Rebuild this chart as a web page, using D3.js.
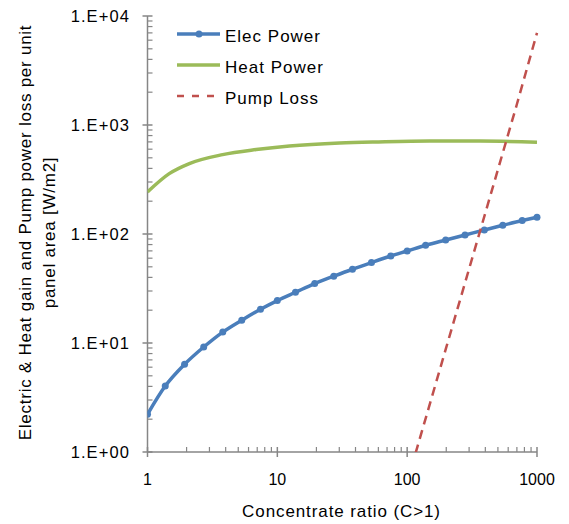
<!DOCTYPE html>
<html>
<head>
  <meta charset="utf-8">
  <script src="https://d3js.org/d3.v7.min.js"></script>
  <style>
    body { margin: 0; background: #fff; }
    text { font-family: "Liberation Sans", Arial, sans-serif; fill: #000; }
  </style>
</head>
<body>
<script>
  // Chart data
  var elecC = [1, 1.37, 1.93, 2.71, 3.8, 5.32, 7.42, 10, 13.8, 19.4, 27.2, 37.9, 53.1, 74.8,
               100, 138.7, 198, 279, 393, 545, 769, 1000];
  var elecW = [2.22, 4.03, 6.38, 9.19, 12.6, 16.2, 20.4, 24.5, 29.2, 35.1, 41.0, 47.5, 54.7, 62.8,
               69.8, 78.8, 88.1, 97.9, 108.8, 120.2, 132.8, 142.3];
  var heatC = [1, 1.47, 2.1, 3.79, 6.87, 12.4, 30.2, 60, 149, 364, 1000];
  var heatW = [243, 358, 443, 535, 595, 642, 684, 700, 713, 713, 694];
  var pumpC = [100, 200, 400, 700, 1000];
  var pumpW = [0.53, 9.1, 156, 1550, 7000];
  var xTicks = [1, 10, 100, 1000];
  var yTicks = [1, 10, 100, 1000, 10000];
  var yTickLabels = ["1.E+00", "1.E+01", "1.E+02", "1.E+03", "1.E+04"];
  var seriesNames = ["Elec Power", "Heat Power", "Pump Loss"];
  var seriesColors = ["#4A7EBB", "#9BBB59", "#C0504D"];

  var width = 569, height = 524;
  var pLeft = 147.5, pRight = 537, pTop = 16, pBottom = 452;

  var svg = d3.select("body").append("svg")
    .attr("width", width)
    .attr("height", height);

  var x = d3.scaleLog().domain([1, 1000]).range([pLeft, pRight]);
  var y = d3.scaleLog().domain([1, 10000]).range([pBottom, pTop]);

  var axisColor = "#868686";

  // minor ticks
  var xMinor = [], yMinor = [];
  for (var d = 1; d < 1000; d *= 10)
    for (var k = 2; k <= 9; k++) xMinor.push(d * k);
  for (var d = 1; d < 10000; d *= 10)
    for (var k = 2; k <= 9; k++) yMinor.push(d * k);

  var ax = svg.append("g");
  ax.selectAll(".xminor").data(xMinor).enter().append("line")
    .attr("x1", function(d) { return x(d); }).attr("x2", function(d) { return x(d); })
    .attr("y1", pBottom - 5).attr("y2", pBottom)
    .attr("stroke", axisColor).attr("stroke-width", 1.2);
  ax.selectAll(".xmajor").data(xTicks).enter().append("line")
    .attr("x1", function(d) { return x(d); }).attr("x2", function(d) { return x(d); })
    .attr("y1", pBottom - 5).attr("y2", pBottom + 5)
    .attr("stroke", axisColor).attr("stroke-width", 1.5);
  ax.selectAll(".yminor").data(yMinor).enter().append("line")
    .attr("x1", pLeft).attr("x2", pLeft + 5)
    .attr("y1", function(d) { return y(d); }).attr("y2", function(d) { return y(d); })
    .attr("stroke", axisColor).attr("stroke-width", 1.2);
  ax.selectAll(".ymajor").data(yTicks).enter().append("line")
    .attr("x1", pLeft - 5).attr("x2", pLeft + 5)
    .attr("y1", function(d) { return y(d); }).attr("y2", function(d) { return y(d); })
    .attr("stroke", axisColor).attr("stroke-width", 1.5);
  ax.append("line").attr("x1", pLeft).attr("x2", pLeft).attr("y1", pTop).attr("y2", pBottom)
    .attr("stroke", axisColor).attr("stroke-width", 1.5);
  ax.append("line").attr("x1", pLeft).attr("x2", pRight).attr("y1", pBottom).attr("y2", pBottom)
    .attr("stroke", axisColor).attr("stroke-width", 1.5);

  // tick labels
  svg.selectAll(".xlab").data(xTicks).enter().append("text")
    .attr("x", function(d) { return x(d); })
    .attr("y", 485)
    .attr("text-anchor", "middle")
    .style("font-size", "16px")
    .text(function(d) { return d; });
  svg.selectAll(".ylab").data(yTicks).enter().append("text")
    .attr("x", 130)
    .attr("y", function(d) { return y(d) + 6; })
    .attr("text-anchor", "end")
    .style("font-size", "16.5px")
    .style("letter-spacing", "1.1px")
    .text(function(d, i) { return yTickLabels[i]; });

  // axis titles
  svg.append("text")
    .attr("x", 341.5).attr("y", 516.5)
    .attr("text-anchor", "middle")
    .style("font-size", "17px")
    .style("letter-spacing", "0.9px")
    .text("Concentrate ratio (C>1)");
  var yt = svg.append("text")
    .attr("transform", "translate(30.5,232.5) rotate(-90)")
    .attr("text-anchor", "middle")
    .style("font-size", "17px")
    .style("letter-spacing", "0.75px");
  yt.append("tspan").attr("x", 0).attr("y", 0)
    .text("Electric & Heat gain and Pump power loss per unit");
  yt.append("tspan").attr("x", 0).attr("y", 24.5)
    .text("panel area [W/m2]");

  // clip
  svg.append("clipPath").attr("id", "plot")
    .append("rect").attr("x", pLeft).attr("y", pTop - 20)
    .attr("width", pRight - pLeft + 5).attr("height", pBottom - pTop + 20);

  var plot = svg.append("g").attr("clip-path", "url(#plot)");

  function pts(cs, ws) { return cs.map(function(c, i) { return [c, ws[i]]; }); }

  var line = d3.line()
    .x(function(d) { return x(d[0]); })
    .y(function(d) { return y(d[1]); });

  plot.append("path")
    .datum(pts(heatC, heatW))
    .attr("d", line.curve(d3.curveMonotoneX))
    .attr("fill", "none").attr("stroke", seriesColors[1]).attr("stroke-width", 3.5);

  plot.append("path")
    .datum(pts(elecC, elecW))
    .attr("d", line.curve(d3.curveMonotoneX))
    .attr("fill", "none").attr("stroke", seriesColors[0]).attr("stroke-width", 3.5);
  plot.selectAll(".mk").data(pts(elecC, elecW)).enter().append("circle")
    .attr("cx", function(d) { return x(d[0]); })
    .attr("cy", function(d) { return y(d[1]); })
    .attr("r", 3.5)
    .attr("fill", seriesColors[0]);

  plot.append("path")
    .datum(pts(pumpC, pumpW))
    .attr("d", line.curve(d3.curveLinear))
    .attr("fill", "none").attr("stroke", seriesColors[2]).attr("stroke-width", 2.5)
    .attr("stroke-dasharray", "9,6");

  // legend
  var leg = svg.append("g");
  seriesNames.forEach(function(name, i) {
    var ly = 34 + i * 31;
    var l = leg.append("line")
      .attr("x1", 177).attr("x2", 220).attr("y1", ly).attr("y2", ly)
      .attr("stroke", seriesColors[i])
      .attr("stroke-width", i == 2 ? 2.5 : 3.5);
    if (i == 2) l.attr("stroke-dasharray", "7,8");
    if (i == 0) leg.append("circle").attr("cx", 199).attr("cy", ly).attr("r", 3.5)
      .attr("fill", seriesColors[0]);
    leg.append("text")
      .attr("x", 225).attr("y", ly + 7.5)
      .style("font-size", "17px")
      .style("letter-spacing", "1px")
      .text(name);
  });
</script>
</body>
</html>
